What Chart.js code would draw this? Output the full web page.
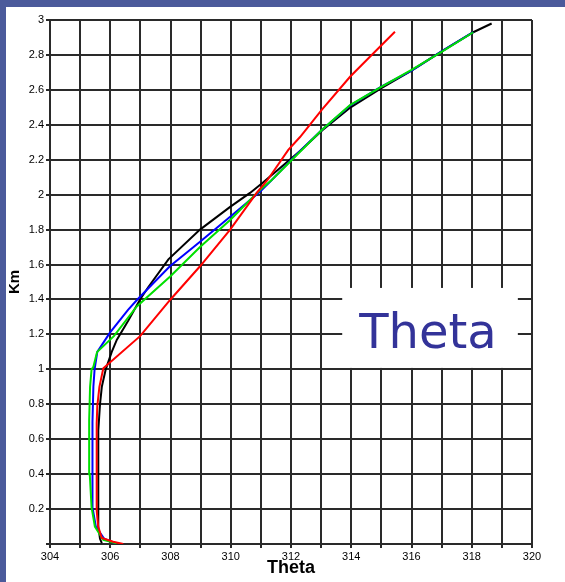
<!DOCTYPE html>
<html>
<head>
<meta charset="UTF-8">
<script src="https://cdn.jsdelivr.net/npm/chart.js"></script>
<style>
  html, body { margin: 0; padding: 0; background: #fff; }
  canvas { display: block; }
</style>
</head>
<body>
<canvas id="grafico" width="565" height="582"></canvas>
<script>
  // perfis de theta (K) por altura (km)
  const blackKm    = [0.005, 0.03, 0.08, 0.2, 0.4, 0.65, 0.8, 0.9, 1.0, 1.1, 1.17, 1.28, 1.4, 1.47, 1.63, 1.8, 1.93, 2.01, 2.07, 2.25, 2.37, 2.5, 2.61, 2.71, 2.82, 2.93, 2.98];
  const blackTheta = [305.72, 305.66, 305.62, 305.6, 305.6, 305.61, 305.66, 305.72, 305.85, 306.05, 306.22, 306.6, 306.99, 307.26, 307.93, 308.98, 309.98, 310.64, 311.07, 312.3, 313.05, 313.98, 315.0, 316.0, 317.0, 318.05, 318.66];

  const redKm    = [0.0, 0.013, 0.034, 0.1, 0.19, 0.4, 0.69, 0.79, 0.9, 1.006, 1.19, 1.4, 1.59, 1.8, 2.01, 2.084, 2.256, 2.33, 2.485, 2.675, 2.79, 2.933];
  const redTheta = [306.43, 306.1, 305.72, 305.6, 305.55, 305.55, 305.55, 305.57, 305.64, 305.77, 306.99, 308.0, 308.98, 309.98, 310.86, 311.22, 311.91, 312.3, 313.02, 313.96, 314.62, 315.45];

  const greenKm    = [0.004, 0.023, 0.1, 0.21, 0.4, 0.71, 0.9, 1.0, 1.015, 1.09, 1.1, 1.19, 1.36, 1.53, 1.7, 1.855, 2.027, 2.084, 2.246, 2.37, 2.513, 2.618, 2.714, 2.818, 2.93];
  const greenTheta = [306.21, 305.77, 305.49, 305.38, 305.32, 305.3, 305.33, 305.38, 305.44, 305.55, 305.57, 306.12, 306.88, 307.98, 308.98, 309.98, 310.97, 311.36, 312.3, 313.02, 313.96, 315.01, 316.0, 317.0, 318.05];

  const blueKm    = [0.005, 0.03, 0.1, 0.2, 0.4, 0.7, 0.9, 1.0, 1.1, 1.21, 1.34, 1.4, 1.59, 1.73, 1.874, 2.017, 2.084, 2.25, 2.37, 2.51, 2.62, 2.71, 2.82, 2.93];
  const blueTheta = [306.15, 305.8, 305.52, 305.42, 305.4, 305.42, 305.44, 305.48, 305.57, 305.99, 306.59, 306.9, 307.98, 308.98, 309.98, 310.97, 311.36, 312.3, 313.02, 313.96, 315.01, 316.0, 317.0, 318.05];

  const xLabels = [304, 306, 308, 310, 312, 314, 316, 318, 320];

  function pontos(theta, km) {
    return theta.map((t, i) => ({ x: t, y: km[i] }));
  }

  function serie(cor, theta, km) {
    return {
      data: pontos(theta, km),
      borderColor: cor,
      borderWidth: 2,
      pointRadius: 0,
      showLine: true,
      fill: false,
      tension: 0
    };
  }

  const corGrade = '#2a2a2a';

  // moldura azul e caixa "Theta"
  const moldura = {
    id: 'moldura',
    beforeDraw(chart) {
      const c = chart.ctx;
      c.save();
      c.fillStyle = '#ffffff';
      c.fillRect(0, 0, chart.width, chart.height);
      c.fillStyle = '#4b5a9b';
      c.fillRect(0, 0, chart.width, 7);
      c.fillRect(0, 0, 6, chart.height);
      c.restore();
    },
    beforeDatasetsDraw(chart) {
      const c = chart.ctx;
      const x = chart.scales.x, y = chart.scales.y;
      const x0 = x.getPixelForValue(313.7), x1 = x.getPixelForValue(319.53);
      const y0 = y.getPixelForValue(1.466), y1 = y.getPixelForValue(1.008);
      c.save();
      c.fillStyle = '#ffffff';
      c.fillRect(x0, y0, x1 - x0, y1 - y0);
      c.fillStyle = '#333399';
      c.font = '48px "DejaVu Sans"';
      c.textAlign = 'center';
      c.textBaseline = 'alphabetic';
      c.fillText('Theta', (x0 + x1) / 2 - 2, y0 + 60);
      c.restore();
    }
  };

  new Chart(document.getElementById('grafico'), {
    type: 'scatter',
    data: {
      datasets: [
        serie('#ff0000', redTheta, redKm),
        serie('#00e000', greenTheta, greenKm),
        serie('#0000ff', blueTheta, blueKm),
        serie('#000000', blackTheta, blackKm)
      ]
    },
    options: {
      responsive: false,
      animation: false,
      devicePixelRatio: 1,
      layout: { padding: { left: 6, top: 20, right: 33, bottom: 0 } },
      plugins: { legend: { display: false }, tooltip: { enabled: false } },
      scales: {
        x: {
          type: 'linear',
          min: 304,
          max: 320,
          afterFit(s) { s.height = 38; },
          ticks: {
            stepSize: 1,
            autoSkip: false,
            maxRotation: 0,
            padding: 2,
            color: '#000',
            font: { family: '"Liberation Sans", Arial', size: 11 },
            callback: v => xLabels.includes(v) ? String(v) : ''
          },
          grid: { color: corGrade, lineWidth: 2, tickLength: 4 },
          border: { color: corGrade, width: 2 },
          title: {
            display: true,
            text: 'Theta',
            color: '#000',
            font: { family: '"Liberation Sans", Arial', size: 18, weight: 'bold' },
            padding: { top: 0, bottom: 3 }
          }
        },
        y: {
          type: 'linear',
          min: 0,
          max: 3,
          afterFit(s) { s.width = 44; },
          ticks: {
            stepSize: 0.2,
            autoSkip: false,
            padding: 2,
            color: '#000',
            font: { family: '"Liberation Sans", Arial', size: 11 },
            callback: v => v === 0 ? '' : String(Math.round(v * 10) / 10)
          },
          grid: { color: corGrade, lineWidth: 2, tickLength: 4 },
          border: { color: corGrade, width: 2 },
          title: {
            display: true,
            text: 'Km',
            color: '#000',
            font: { family: '"Liberation Sans", Arial', size: 15, weight: 'bold' },
            padding: { top: 0, bottom: 0 }
          }
        }
      }
    },
    plugins: [moldura]
  });
</script>
</body>
</html>
